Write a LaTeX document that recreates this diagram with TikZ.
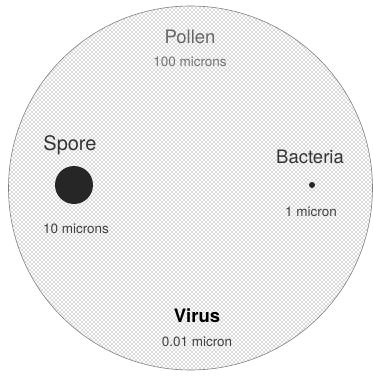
\documentclass[tikz,border=0pt]{standalone}
\usepackage{fontspec}
\setmainfont{TeX Gyre Heros}
\usetikzlibrary{patterns}
\pgfdeclarepatternformonly{mydots}{\pgfqpoint{0pt}{0pt}}{\pgfqpoint{4pt}{4pt}}{\pgfqpoint{4pt}{4pt}}{%
  \pgfpathcircle{\pgfqpoint{1pt}{1pt}}{0.7pt}%
  \pgfpathcircle{\pgfqpoint{3pt}{3pt}}{0.7pt}%
  \pgfusepath{fill}}
\tikzset{
  title/.style={font=\fontsize{18.5}{20}\selectfont, text=black!80},
  size/.style={font=\fontsize{13.5}{15}\selectfont, text=black!75},
  particle/.style={circle, fill=black!85, inner sep=0pt},
}
\begin{document}
\begin{tikzpicture}[x=1pt,y=1pt]
\useasboundingbox (0,0) rectangle (373,376);
\fill[pattern=mydots, pattern color=black!62] (190.5,188) circle (182);
\draw[black!50, line width=0.6pt] (190.5,188) circle (182);
\node[title, text=black!60] (pollen) at (190,339) {Pollen};
\node[size, text=black!55] (pollensize) at (190,314) {100 microns};
\node[title, font=\fontsize{20}{22}\selectfont] (spore) at (70,231) {Spore};
\node[particle, minimum size=38pt] (sporedot) at (74,191) {};
\node[size] (sporesize) at (76,147) {10 microns};
\node[title] (bacteria) at (310,219) {Bacteria};
\node[particle, minimum size=6pt] (bactdot) at (312,191) {};
\node[size] (bactsize) at (311,164) {1 micron};
\node[title, text=black, font=\fontsize{18.5}{20}\selectfont\bfseries] (virus) at (197,60) {Virus};
\node[size] (virussize) at (197,34) {0.01 micron};
\end{tikzpicture}
\end{document}
